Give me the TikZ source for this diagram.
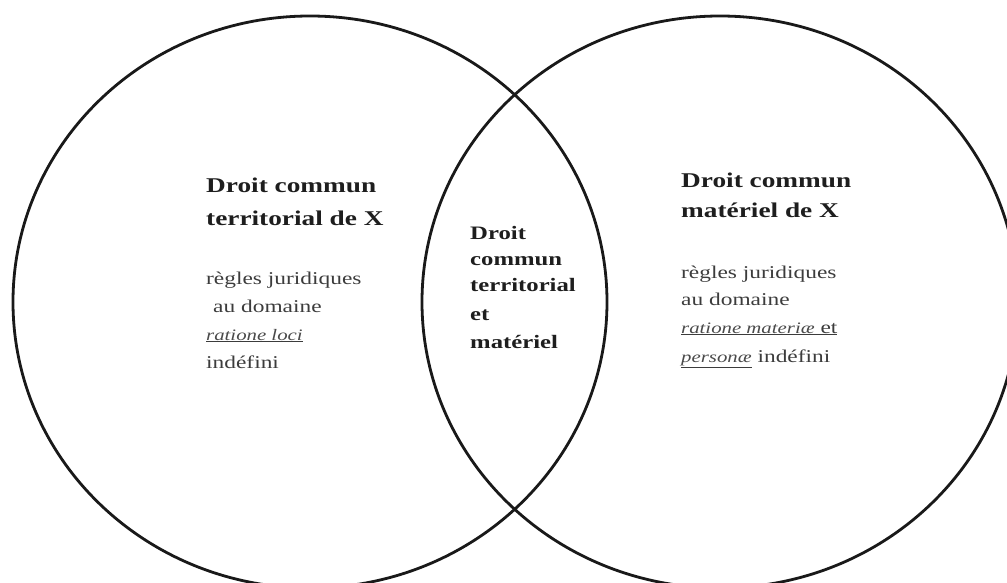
\documentclass[tikz,border=0pt]{standalone}
\usepackage{fontspec}
\setmainfont{Liberation Serif}[FakeStretch=1.3]
\definecolor{boldc}{HTML}{1E1E1E}
\definecolor{bodyc}{HTML}{3C3C3C}
\definecolor{italc}{HTML}{4A4A4A}
\tikzset{
  venn/.style={draw=black!90, line width=2.8pt},
  headtxt/.style={anchor=base west, inner sep=0pt, text=boldc, font=\fontsize{21}{25}\selectfont\bfseries},
  midtxt/.style={anchor=base west, inner sep=0pt, text=boldc, font=\fontsize{19}{23}\selectfont\bfseries},
  bodytxt/.style={anchor=base west, inner sep=0pt, text=bodyc, font=\fontsize{18}{22}\selectfont},
}
\newcommand{\ulit}[1]{\underline{\textcolor{italc}{\fontsize{16}{20}\selectfont\itshape #1}}}
\begin{document}
\begin{tikzpicture}[x=1pt,y=-1pt]
\useasboundingbox (0,0) rectangle (1007,583);
\begin{scope}
\clip (0,0) rectangle (1007,583);
\draw[venn] (310,302) ellipse [x radius=297, y radius=286];
\draw[venn] (720,302) ellipse [x radius=298, y radius=286];
\end{scope}
% left block
\node[headtxt] (l1) at (206,193) {Droit commun};
\node[headtxt] (l2) at (206,225) {territorial de X};
\node[bodytxt] (l3) at (206,284) {règles juridiques};
\node[bodytxt] (l4) at (213,312) {au domaine};
\node[bodytxt] (l5) at (206,340) {\ulit{ratione loci}};
\node[bodytxt] (l6) at (206,368) {indéfini};
% middle block
\node[midtxt] (m1) at (470,239) {Droit};
\node[midtxt] (m2) at (470,265) {commun};
\node[midtxt] (m3) at (470,291) {territorial};
\node[midtxt] (m4) at (470,320) {et};
\node[midtxt] (m5) at (470,348) {matériel};
% right block
\node[headtxt] (r1) at (681,187) {Droit commun};
\node[headtxt] (r2) at (681,218) {matériel de X};
\node[bodytxt] (r3) at (681,278) {règles juridiques};
\node[bodytxt] (r4) at (681,305) {au domaine};
\node[bodytxt] (r5) at (681,333) {\underline{\textcolor{italc}{\fontsize{16}{20}\selectfont\itshape ratione materiæ} et}};
\node[bodytxt] (r6) at (681,362) {\ulit{personæ} indéfini};
\end{tikzpicture}
\end{document}
